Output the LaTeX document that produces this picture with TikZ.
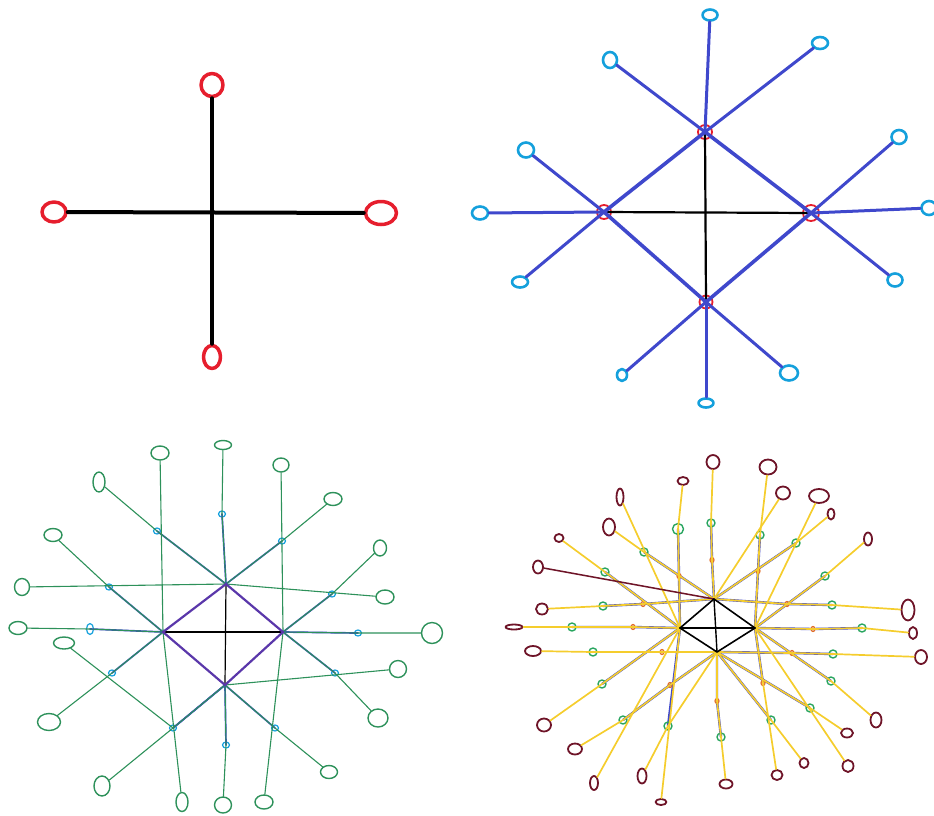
\documentclass[tikz,border=0pt]{standalone}
\usetikzlibrary{shapes.geometric,backgrounds}
\begin{document}
\begin{tikzpicture}[x=1pt, y=-1pt, line cap=round, line join=round,
  bud/.style 2 args={ellipse, inner sep=0pt, minimum width=#1, minimum height=#2},
  redbud/.style={draw=budred, line width=3.5},
  cyanbud/.style={draw=budcyan, line width=2.6},
  smallbud/.style={draw=budcyan, line width=1.2},
  greenbud/.style={draw=stemgreen, line width=1.4},
  orangebud/.style={draw=budorange, line width=1.2},
  leafbud/.style={draw=budgreen, line width=1.4},
  darkbud/.style={draw=budmaroon, line width=1.8},
  bluestem/.style={draw=stemblue},
  greenstem/.style={draw=stemgreen, line width=1.1},
  yellowstem/.style={draw=stemyellow, line width=1.7}]
  \definecolor{budred}{RGB}{230,30,45}
  \definecolor{stemblue}{RGB}{63,72,204}
  \definecolor{budcyan}{RGB}{20,160,220}
  \definecolor{stemgreen}{RGB}{45,145,90}
  \definecolor{diapurple}{RGB}{90,55,170}
  \definecolor{stemyellow}{RGB}{245,205,45}
  \definecolor{budmaroon}{RGB}{110,20,40}
  \definecolor{budgreen}{RGB}{40,165,95}
  \definecolor{budorange}{RGB}{225,110,40}
  \useasboundingbox (0,0) rectangle (934,815);

  % first stage
  \node[redbud, bud={22}{23}] (a1) at (212,85) {};
  \node[redbud, bud={24}{20}] (a2) at (54,212) {};
  \node[redbud, bud={31}{23}] (a3) at (381,213) {};
  \node[redbud, bud={17}{23}] (a4) at (212,357) {};
  \draw[line width=4] (a1) -- (a4);
  \draw[line width=4] (a2) -- (a3);

  % second stage
  \node[circle, draw=budred, line width=1.8, minimum size=14, inner sep=0pt] (b1) at (705,132) {};
  \node[circle, draw=budred, line width=1.8, minimum size=14, inner sep=0pt] (b2) at (604,212) {};
  \node[circle, draw=budred, line width=1.8, minimum size=16, inner sep=0pt] (b3) at (811,213) {};
  \node[circle, draw=budred, line width=1.8, minimum size=13, inner sep=0pt] (b4) at (706,302) {};
  \draw[line width=2.2] (b1.center) -- (b4.center);
  \draw[line width=2.2] (b2.center) -- (b3.center);
  \draw[bluestem, line width=3.6] (b1.center) -- (b3.center) -- (b4.center) -- (b2.center) -- cycle;
  \foreach \p/\n/\x/\y/\w/\h in {b1/1/710/15/15/11, b1/2/820/43/16/12, b1/3/610/60/14/16,
      b2/4/526/150/16/15, b2/5/480/213/16/13, b2/6/520/282/16/11,
      b3/7/899/137/15/14, b3/8/929/208/15/14, b3/9/895/280/15/13,
      b4/10/622/375/10/12, b4/11/706/403/15/9, b4/12/789/373/18/15}
  {
    \node[cyanbud, bud={\w}{\h}] (bb\n) at (\x,\y) {};
    \draw[bluestem, line width=3] (\p.center) -- (bb\n);
  }

  % third stage
  \coordinate (p3t) at (226,584);
  \coordinate (p3l) at (163,632);
  \coordinate (p3r) at (283,632);
  \coordinate (p3b) at (225,685);
  \foreach \n/\x/\y in {1/222/514, 2/157/531, 3/282/541, 4/109/587, 5/332/594, 7/358/633,
      8/112/673, 9/335/673, 10/173/728, 11/275/728, 12/226/745}
    \node[smallbud, bud={7}{6}] (c\n) at (\x,\y) {};
  \node[smallbud, bud={7}{11}] (c6) at (90,629) {};
  \foreach \n/\x/\y/\w/\h in {1/223/445/17/9, 2/99/482/12/20, 3/333/499/18/13, 4/53/535/18/13,
      5/380/548/13/16, 6/18/628/18/13, 7/432/633/21/21, 8/49/722/23/17, 9/378/718/20/18,
      10/102/786/16/20, 11/329/772/17/13, 12/223/805/17/16, 13/160/453/18/14,
      14/281/465/16/14, 15/22/587/15/17, 16/385/597/18/14, 17/64/643/21/12,
      18/398/669/17/17, 19/182/802/12/19, 20/264/802/18/14}
    \node[greenbud, bud={\w}{\h}] (g\n) at (\x,\y) {};
  \foreach \p/\c/\g in {p3t/1/1, p3t/2/2, p3t/3/3, p3l/4/4, p3r/5/5, p3l/6/6, p3r/7/7,
      p3l/8/8, p3r/9/9, p3b/10/10, p3b/11/11, p3b/12/12, p3b/10/17}
  {
    \draw[bluestem, line width=1.7] (\p) -- (c\c.center);
    \draw[greenstem] (\p) -- (c\c.center) -- (g\g);
  }
  \foreach \p/\g in {p3l/13, p3r/14, p3t/15, p3t/16, p3b/18, p3l/19, p3r/20}
    \draw[greenstem] (\p) -- (g\g);
  \draw[line width=1.2] (p3t) -- (p3b);
  \draw[line width=1.2] (p3l) -- (p3r);
  \draw[draw=diapurple, line width=2.2] (p3t) -- (p3r) -- (p3b) -- (p3l) -- cycle;

  % fourth stage
  \coordinate (q4t) at (714,599);
  \coordinate (q4l) at (680,628);
  \coordinate (q4r) at (755,628);
  \coordinate (q4b) at (717,652);
  \foreach \n/\x/\y in {1/712/560, 2/679/576, 3/643/604, 4/633/627, 5/758/571, 6/787/604,
      7/813/629, 8/792/653, 9/763/683, 10/717/701, 11/662/652, 12/670/685}
    \node[orangebud, bud={4}{5}] (o\n) at (\x,\y) {};
  \foreach \n/\x/\y in {1/711/523, 3/644/552, 4/605/572, 5/603/606, 6/572/627, 7/760/535,
      8/796/543, 9/825/576, 10/832/605, 11/862/628, 12/833/654, 13/831/681, 14/810/708,
      15/771/720, 16/721/737, 17/593/652, 18/602/684, 19/623/720, 20/668/726}
    \node[leafbud, bud={8}{8}] (h\n) at (\x,\y) {};
  \node[leafbud, bud={11}{11}] (h2) at (678,529) {};
  \foreach \n/\x/\y/\w/\h in {1/713/462/13/14, 2/683/481/11/8, 3/620/497/7/17, 4/609/527/12/17,
      5/559/538/9/8, 6/538/567/10/13, 7/542/609/12/11, 8/514/627/17/5, 9/768/467/17/15,
      10/783/493/14/13, 11/819/496/20/14, 12/831/514/7/11, 13/868/539/8/13,
      14/908/610/13/21, 15/913/633/8/12, 16/921/657/12/14, 17/876/720/11/15,
      18/847/733/12/9, 19/848/766/11/12, 20/804/763/9/10, 21/777/775/11/10,
      22/726/784/13/9, 23/533/651/16/10, 24/544/725/14/13, 25/575/749/14/11,
      26/594/783/8/14, 27/642/776/9/15, 28/661/802/11/6}
    \node[darkbud, bud={\w}{\h}] (m\n) at (\x,\y) {};
  \foreach \p/\o/\h/\m in {q4t/1/1/1, q4l/2/2/2, q4t/3/5/7, q4l/4/6/8, q4r/5/7/9, q4t/6/10/14,
      q4r/7/11/15, q4b/8/12/16, q4b/10/16/22, q4b/11/17/23, q4b/12/19/25}
  {
    \begin{pgfonlayer}{background}
      \draw[bluestem, line width=2.4] (\p) -- (o\o.center) -- (h\h.center);
    \end{pgfonlayer}
    \draw[yellowstem] (\p) -- (o\o.center) -- (h\h.center) -- (m\m);
  }
  \foreach \p/\h/\m in {q4t/3/4, q4l/4/5, q4t/8/12, q4r/9/13, q4r/13/17, q4b/14/18,
      q4b/15/20, q4l/18/24}
  {
    \begin{pgfonlayer}{background}
      \draw[bluestem, line width=2.4] (\p) -- (h\h.center);
    \end{pgfonlayer}
    \draw[yellowstem] (\p) -- (h\h.center) -- (m\m);
  }
  \begin{pgfonlayer}{background}
    \draw[bluestem, line width=2.4] (q4l) -- (h20.center);
    \draw[bluestem, line width=2.4] (q4r) -- (o9.center);
  \end{pgfonlayer}
  \draw[yellowstem] (q4b) -- (h20.center) -- (m27);
  \draw[yellowstem] (q4r) -- (o9.center) -- (m21);
  \foreach \p/\m in {q4l/3, q4t/10, q4r/11, q4r/19, q4l/26, q4l/28}
    \draw[yellowstem] (\p) -- (m\m);
  \draw[draw=budmaroon, line width=1.5] (q4t) -- (m6);
  \draw[line width=1.4] (q4t) -- (q4b);
  \draw[line width=1.4] (q4l) -- (q4r);
  \draw[line width=1.6] (q4t) -- (q4r) -- (q4b) -- (q4l) -- cycle;
\end{tikzpicture}
\end{document}
